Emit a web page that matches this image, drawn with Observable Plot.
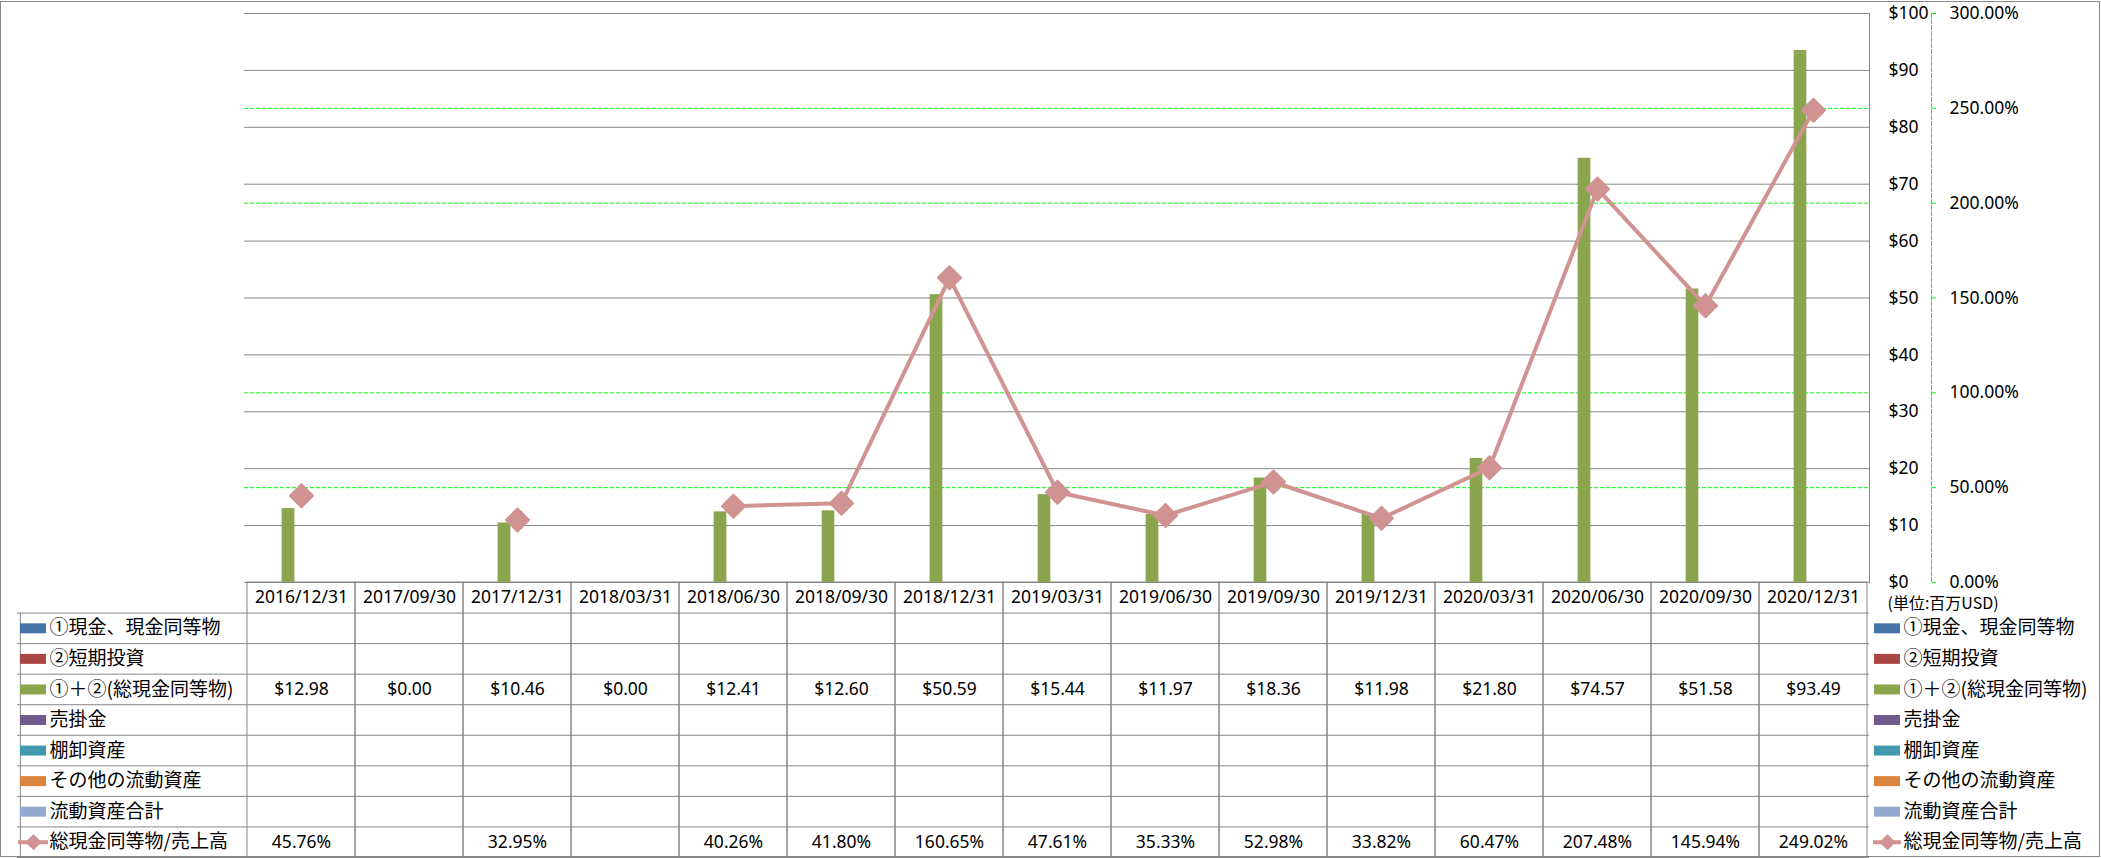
<!DOCTYPE html>
<html><head><meta charset="utf-8">
<script src="https://cdn.jsdelivr.net/npm/d3@7"></script>
<script src="https://cdn.jsdelivr.net/npm/@observablehq/plot@0.6"></script>
<style>
body{margin:0;background:#fff;}
#wrap{position:relative;width:2101px;height:858px;overflow:hidden;background:#fff;}
#wrap svg{position:absolute;left:0;overflow:visible;}
#border{position:absolute;left:0;top:1px;width:2098px;height:854px;border:1px solid #868686;pointer-events:none;}
</style></head><body>
<div id="wrap"><div id="border"></div></div>
<script>
const dates = ["2016/12/31","2017/09/30","2017/12/31","2018/03/31","2018/06/30","2018/09/30","2018/12/31","2019/03/31","2019/06/30","2019/09/30","2019/12/31","2020/03/31","2020/06/30","2020/09/30","2020/12/31"];
const cash = [12.98, 0.00, 10.46, 0.00, 12.41, 12.60, 50.59, 15.44, 11.97, 18.36, 11.98, 21.80, 74.57, 51.58, 93.49];
const ratio = [45.76, null, 32.95, null, 40.26, 41.80, 160.65, 47.61, 35.33, 52.98, 33.82, 60.47, 207.48, 145.94, 249.02];
const seriesNames = ["①現金、現金同等物","②短期投資","①＋②(総現金同等物)","売掛金","棚卸資産","その他の流動資産","流動資産合計","総現金同等物/売上高"];
const seriesColors = ["#4572A7","#AA4643","#89A54E","#71588F","#4198AF","#DB843D","#93A9CF","#D19392"];
const dollarTicks = [0,10,20,30,40,50,60,70,80,90,100];
const pctTicks = [0,50,100,150,200,250,300];
const unitLabel = "(単位:百万USD)";

const data = dates.map((d,i)=>({date:d, cash:cash[i], ratio:ratio[i]}));
const W = 2101, L = 244, R = 232;
const bw = (W - L - R) / dates.length;
const latin = "'Noto Sans', 'Liberation Sans', sans-serif";
const cjk = "'Noto Sans CJK JP', 'Noto Sans', sans-serif";
const grid = "#868686";
const lineColor = seriesColors[7];
const barColor = seriesColors[2];
const ry = d => d.ratio == null ? NaN : d.ratio / 3;
// green dashed gridlines only where they don't coincide with a gray dollar gridline
const pctGrid = pctTicks.slice(1, -1).filter(p => (p / 3) % 10 !== 0).map(p => p / 3);

const topPlot = Plot.plot({
  width: W, height: 600, marginLeft: L, marginRight: R, marginTop: 13, marginBottom: 18,
  style: {background: "transparent", overflow: "visible", fontFamily: latin, fontSize: "17.5px", color: "#000"},
  x: {type: "band", domain: dates, padding: 0, axis: null},
  y: {domain: [0, 100], axis: null},
  marks: [
    Plot.gridY(pctGrid, {stroke: "#00ff00", strokeOpacity: 1, strokeDasharray: "4,2"}),
    Plot.gridY(dollarTicks, {stroke: grid, strokeOpacity: 1}),
    Plot.frame({anchor: "right", stroke: grid}),
    Plot.frame({anchor: "right", dx: 62, stroke: "#00ff00", strokeDasharray: "4,2"}),
    Plot.barY(data, {x: "date", y: "cash", fill: barColor, insetLeft: bw/2 - 19.5, insetRight: bw/2 + 6.5}),
    Plot.line(data, {x: "date", y: ry, stroke: lineColor, strokeWidth: 4}),
    Plot.dot(data, {x: "date", y: ry, symbol: "diamond2", r: 10.4, fill: lineColor, stroke: lineColor, strokeWidth: 2, strokeLinejoin: "round"}),
    Plot.axisY(dollarTicks, {anchor: "right", label: null, tickSize: 0, tickPadding: 19, textAnchor: "start", tickFormat: d => "$" + d, fill: "#000"}),
    Plot.axisY(pctTicks.map(p => p / 3), {anchor: "right", label: null, tickSize: 4, tickPadding: 14, dx: 62, stroke: "#00ff00", fill: "#000", textAnchor: "start", tickFormat: d => (d * 3).toFixed(2) + "%"})
  ]
});

const rowIdx = (d, i) => i + 1.5;
const tblPlot = Plot.plot({
  width: W, height: 276, marginLeft: L, marginRight: R, marginTop: 0, marginBottom: 1,
  style: {background: "transparent", overflow: "visible", fontFamily: latin, fontSize: "17.5px", color: "#000"},
  x: {type: "band", domain: dates, padding: 0, axis: null},
  y: {domain: [0, 9], reverse: true, axis: null},
  color: {type: "identity"},
  marks: [
    Plot.barY(dates, {x: d => d, y1: () => 0, y2: () => 9, fill: "none", stroke: grid}),
    Plot.ruleY(d3.range(1, 10), {y: d => d, stroke: grid, insetLeft: -(L - 17)}),
    Plot.ruleX([dates[0]], {x: d => d, y1: () => 1, y2: () => 9, dx: -bw/2 - (L - 17), stroke: grid}),
    Plot.text(dates, {x: d => d, y: () => 0.5, text: d => d, fill: "#000"}),
    Plot.text(data, {x: "date", y: () => 3.5, text: d => "$" + d.cash.toFixed(2), fill: "#000"}),
    Plot.text(data.filter(d => d.ratio != null), {x: "date", y: () => 8.5, text: d => d.ratio.toFixed(2) + "%", fill: "#000"}),
    // left legend
    Plot.ruleY(seriesNames.slice(0, 7), {y: rowIdx, stroke: (d, i) => seriesColors[i], strokeWidth: 10, insetLeft: -(L - 20), insetRight: (W - R) - 46}),
    Plot.ruleY(seriesNames.slice(7), {y: () => 8.5, stroke: lineColor, strokeWidth: 4, insetLeft: -(L - 18), insetRight: (W - R) - 48}),
    Plot.dot(seriesNames.slice(7), {y: () => 8.5, frameAnchor: "left", dx: -(L - 33), symbol: "diamond2", r: 6, fill: lineColor, stroke: lineColor, strokeWidth: 2, strokeLinejoin: "round"}),
    Plot.text(seriesNames, {y: rowIdx, frameAnchor: "left", dx: -(L - 49), textAnchor: "start", text: d => d, fontFamily: cjk, fontSize: 19, fill: "#000"}),
    // right legend
    Plot.text([unitLabel], {y: () => 0.5, frameAnchor: "right", dx: 18, dy: 6, textAnchor: "start", text: d => d, fontFamily: cjk, fontSize: 16, fill: "#000"}),
    Plot.ruleY(seriesNames.slice(0, 7), {y: rowIdx, stroke: (d, i) => seriesColors[i], strokeWidth: 10, insetLeft: 1874 - L, insetRight: -(1900 - (W - R))}),
    Plot.ruleY(seriesNames.slice(7), {y: () => 8.5, stroke: lineColor, strokeWidth: 4, insetLeft: 1873 - L, insetRight: -(1901 - (W - R))}),
    Plot.dot(seriesNames.slice(7), {y: () => 8.5, frameAnchor: "right", dx: 18, symbol: "diamond2", r: 6, fill: lineColor, stroke: lineColor, strokeWidth: 2, strokeLinejoin: "round"}),
    Plot.text(seriesNames, {y: rowIdx, frameAnchor: "right", dx: 34, textAnchor: "start", text: d => d, fontFamily: cjk, fontSize: 19, fill: "#000"})
  ]
});

const wrap = document.getElementById("wrap");
tblPlot.style.top = "582px";
topPlot.style.top = "0px";
wrap.insertBefore(tblPlot, wrap.firstChild);
wrap.insertBefore(topPlot, wrap.firstChild.nextSibling);
</script>
</body></html>
